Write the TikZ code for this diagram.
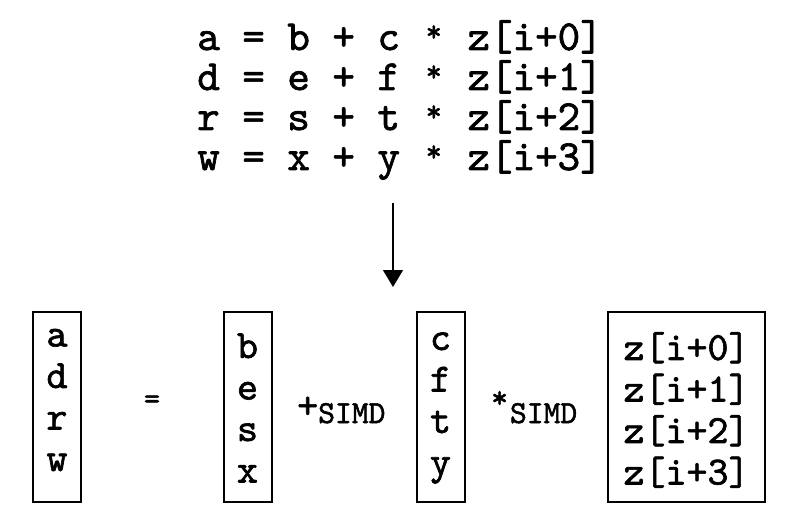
\documentclass[tikz,border=0pt]{standalone}
\usepackage{fontspec}
\setmonofont{lmmono10-regular.otf}[FakeBold=1.6]
\usetikzlibrary{arrows.meta}
% small raised asterisk, as in the Courier original
\newcommand{\starop}{\makebox[0.525em]{\raisebox{0.2em}{\scalebox{0.72}{*}}}}
\begin{document}
\begin{tikzpicture}[x=1pt,y=-1pt,
  code/.style={font=\ttfamily\fontsize{42.9}{40}\selectfont, align=left, inner sep=0pt},
  vec/.style={draw, line width=2pt, minimum width=48pt, minimum height=190pt, inner sep=0pt},
  vectxt/.style={font=\ttfamily\fontsize{40}{41.5}\selectfont, align=center, inner sep=0pt},
  op/.style={font=\ttfamily\fontsize{40}{40}\selectfont, inner sep=0pt, anchor=base west}]
\useasboundingbox (0,0) rectangle (792,508);
% scalar code
\node[code] (loop) at (400,100) {a = b + c \starop{} z[i+0]\\d = e + f \starop{} z[i+1]\\r = s + t \starop{} z[i+2]\\w = x + y \starop{} z[i+3]};
\coordinate (arrtop) at (393,203);
\coordinate (arrtip) at (393,287);
\draw[line width=1.5pt,-{Triangle[length=17pt,width=20pt]}] (arrtop) -- (arrtip);
% vector form
\node[vec] (A) at (57,407) {};
\node[vectxt] (Atxt) at (57,400) {a\\d\\r\\w};
\node[op,anchor=center,font=\ttfamily\fontsize{31}{31}\selectfont] (eq) at (152,402) {=};
\node[vec] (B) at (247.5,407) {};
\node[vectxt] (Btxt) at (247.5,408) {b\\e\\s\\x};
\node[op] (plus) at (297,418) {+\raisebox{-5pt}{\fontsize{32}{32}\selectfont SIMD}};
\node[vec] (C) at (440.5,407) {};
\node[vectxt] (Ctxt) at (440.5,408) {c\\f\\t\\y};
\node[op] (times) at (491,421) {\raisebox{0.33em}{\scalebox{0.8}{*}}\hspace{2pt}\raisebox{-2pt}{\fontsize{32}{32}\selectfont SIMD}};
\node[vec,minimum width=157pt] (Z) at (686.5,407) {};
\node[vectxt] (Ztxt) at (686.5,410) {z[i+0]\\z[i+1]\\z[i+2]\\z[i+3]};
\end{tikzpicture}
\end{document}
